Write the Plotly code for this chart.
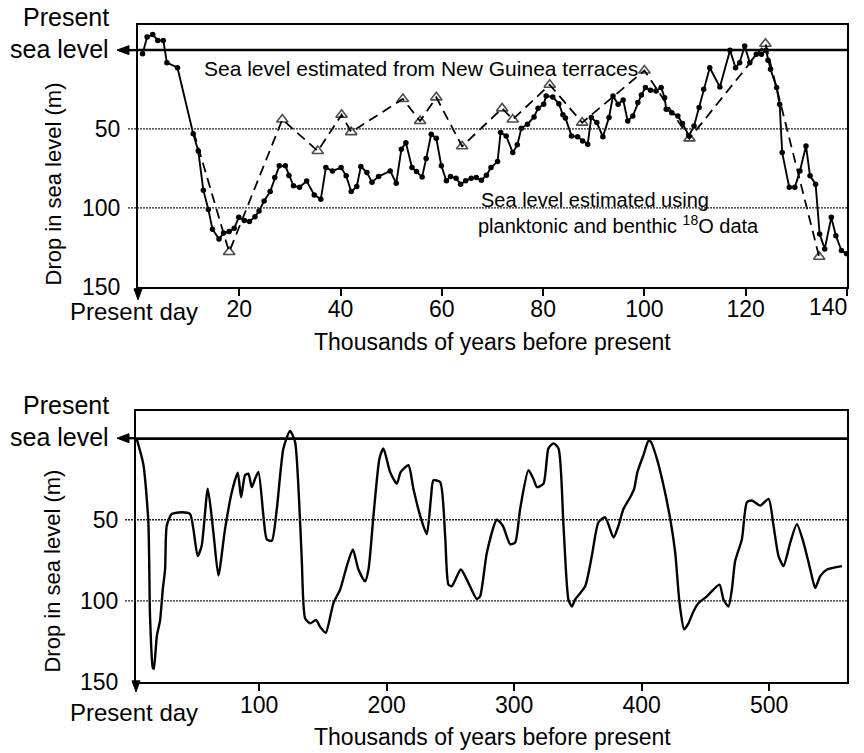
import plotly.graph_objects as go

W, H = 864, 753
YK = 753 / 738  # vertical layout factor used when placing by pixel row
FONT = "Liberation Sans, Arial, Helvetica, sans-serif"

# ---- Last 140 kyr: sea level from planktonic/benthic 18O (solid, dots) ----
o18_age = [0.9, 1.8, 2.9, 3.9, 5.0, 5.7, 7.8, 10.9, 11.9, 12.9, 13.9, 14.7, 16.0,
           16.9, 18.0, 19.0, 19.9, 21.0, 22.0, 23.1, 23.9, 24.9, 26.1, 27.0, 27.9,
           29.1, 29.8, 30.7, 31.9, 33.3, 34.8, 36.1, 37.1, 38.4, 40.1, 41.1, 42.1,
           43.2, 44.0, 45.2, 46.2, 47.5, 49.8, 51.0, 52.0, 52.9, 54.1, 55.0, 56.1,
           56.9, 57.9, 58.9, 59.9, 60.9, 61.7, 62.8, 63.7, 64.7, 65.8, 66.8, 67.8,
           68.8, 69.7, 71.0, 71.6, 72.7, 74.0, 74.9, 75.7, 76.9, 78.2, 79.0, 80.1,
           80.6, 81.9, 83.1, 83.9, 84.4, 85.6, 86.8, 87.8, 88.8, 89.5, 90.6, 91.8,
           93.0, 93.8, 94.8, 95.8, 96.7, 97.7, 98.7, 99.4, 100.2, 101.2, 102.3,
           103.3, 104.0, 104.3, 105.4, 106.6, 107.5, 108.8, 109.8, 110.8, 111.7,
           112.9, 114.9, 116.9, 118.0, 118.8, 119.8, 120.8, 122.1, 123.1, 124.0,
           124.4, 124.9, 126.1, 126.7, 127.2, 128.6, 129.7, 130.7, 131.9, 132.7,
           133.8, 134.6, 135.6, 136.9, 137.8, 138.9, 139.9]
o18_drop = [2.3, -8.2, -9.9, -6.1, -6.1, 8.0, 11.2, 53, 64, 88.8, 101, 113.5, 119.8,
            116, 115, 113, 106, 108, 108.6, 105.7, 102, 95.6, 89.7, 80.8, 73.4,
            73.4, 79.5, 86, 87, 83, 91.8, 94.5, 74.5, 76.6, 74.5, 79.7, 89.7,
            86.5, 73.8, 77.6, 83.7, 80.2, 76.6, 84.4, 62.9, 58.7, 74.5, 77, 80.4,
            68.8, 53.4, 55.9, 73.4, 82.9, 80.2, 81.2, 85, 82.9, 81.2, 80.8, 82.5,
            79.3, 74.5, 70.7, 52.3, 54.4, 65, 60.1, 49.6, 47, 42.4, 36.9, 34.4,
            29.1, 29.7, 34, 41, 43, 54.4, 55, 57.6, 59.7, 42.8, 46, 55,
            42.8, 29.1, 34.4, 31.6, 45, 41.8, 33.3, 28.5, 23.8, 25.5, 26,
            23.8, 30.2, 37.5, 39.7, 41.8, 46.6, 54.4, 48.1, 36.5, 24.9,
            11.2, 23.4, 0.2, 11.2, 8.0, -2.5, 8, 2.7, 2.7, 0.2,
            6.5, 12.2, 23.8, 34.4, 65, 87, 87, 76.6, 60.8, 79.7,
            85, 116.6, 126, 106, 117.6, 127, 129]

# ---- Last 140 kyr: sea level from New Guinea terraces (dashed, triangles) ----
ng_age = [11.0, 18.0, 28.5, 35.5, 40.2, 42.1, 52.3, 55.7, 58.9, 64.0, 71.9, 74.0,
          81.3, 87.7, 100.0, 108.9, 123.9, 134.5]
ng_drop = [52, 128, 44, 64, 41, 52, 31, 45, 30, 61, 37, 44,
           22, 46, 13, 56, -4, 131]

# ---- Last ~560 kyr: long sea level record ----
long_age = [4, 9.3, 13.2, 14.5, 16.6, 17.5, 19.8, 22.4, 24.5, 26.3, 27.6, 31.5,
            39.4, 45.9, 48.5, 51.9, 55, 59.8, 64.2, 68.1, 73.3, 78.6, 83.3, 85.9,
            89, 91.6, 94.3, 96.9, 99.5, 103.4, 106, 110, 113.9, 119.1, 124.3,
            128.2, 131.5, 133.5, 136.1, 140, 144.7, 147.8, 152.3, 158.3, 163.5,
            168.8, 173.5, 177.9, 183.1, 185.8, 189.7, 194.4, 197.5, 202.7, 208,
            211.1, 217.1, 221, 226.3, 231.5, 234.7, 236.7, 242, 245.9, 248.5,
            251.1, 258.2, 262.9, 270.7, 273.3, 278.6, 286.4, 291.1, 296.9, 300.8,
            304.7, 311.2, 315.1, 317.8, 323, 326.9, 330.8, 334.8, 338.7, 342.6,
            345.3, 348, 355.7, 360.9, 366.1, 371.4, 377.9, 381.8, 385.7, 391,
            394.1, 396.7, 401.4, 405.3, 407.2, 411.9, 417.1, 422.4, 426.3, 429.7,
            433.3, 436.7, 440.6, 444.6, 451.1, 461, 464.2, 468.1, 470.7, 473.3,
            478.6, 482.5, 486.4, 492.9, 499.5, 503.4, 507.3, 511.2, 516.5, 521.7,
            526.9, 532.2, 536.1, 540, 545.3, 557]
long_drop = [0, 16, 51.6, 109.5, 141, 142, 122, 112, 93, 80.7, 53.7, 46.5,
             45.4, 46.5, 55.8, 72.4, 66, 30.9, 57.9, 84.4, 55.8, 33, 21, 36.1,
             22.6, 21.6, 29.9, 24.7, 20.5, 47.5, 62, 63, 43.4, 6, -4.8,
             1.9, 40, 75, 110.8, 113.9, 111.8, 116, 119.7, 101.4, 93.2,
             78.6, 68.3, 80.7, 88, 80.7, 47.5, 12.3, 6, 20.5, 27.8,
             20.5, 16.4, 30.9, 47.5, 58.9, 37.1, 25.7, 26.8, 60, 90,
             91, 80.7, 86.9, 98.9, 97.3, 70.3, 50, 53.7, 65.1, 64.1,
             43.4, 19.5, 24.7, 29.9, 27.8, 6, 2.9, 6, 53.7, 99.4,
             103.5, 99, 91, 72.4, 51.6, 48.5, 61, 53.7, 43.4, 36.1,
             30.9, 20.5, 10.1, 1.4, 1.9, 12.3, 28.8, 49.6, 70.3, 101.4,
             117.6, 113.9, 106.6, 101.4, 97.3, 90, 99.4, 103.5, 93.2, 75.5,
             62, 39.2, 38.1, 41.3, 37.1, 53.7, 72.4, 78.6, 64.1, 52.7,
             64.1, 80.7, 92.1, 84.8, 80.7, 78.6]

top_xticks = [20, 40, 60, 80, 100, 120, 140]
bottom_xticks = [100, 200, 300, 400, 500]
depth_ticks = [50, 100, 150]
grid_levels = [50, 100]


def fx(px):
    return px / W


def fy(py):
    return 1 - py * YK / H


fig = go.Figure()

fig.add_trace(go.Scatter(
    x=o18_age, y=o18_drop, mode="lines+markers", xaxis="x", yaxis="y",
    line=dict(color="black", width=1.9),
    marker=dict(size=5.5, color="black"), hoverinfo="skip"))

fig.add_trace(go.Scatter(
    x=ng_age, y=ng_drop, mode="lines+markers", xaxis="x", yaxis="y",
    line=dict(color="black", width=1.8, dash="10px,6px"),
    marker=dict(symbol="triangle-up-open", size=[0] + [10] * (len(ng_age) - 1),
                color="black", line=dict(width=1.6, color="black")),
    hoverinfo="skip"))

fig.add_trace(go.Scatter(
    x=long_age, y=long_drop, mode="lines", xaxis="x2", yaxis="y2",
    line=dict(color="black", width=2.4, shape="spline", smoothing=0.6),
    hoverinfo="skip"))

tickfont = dict(family=FONT, size=23, color="black")
frame = dict(showline=True, linecolor="black", linewidth=2.2, mirror=True,
             showgrid=False, zeroline=False)
xticks = dict(ticks="outside", ticklen=7, tickwidth=2, tickcolor="black",
              tickfont=tickfont, ticklabelstandoff=-6)

fig.update_layout(
    width=W, height=H,
    margin=dict(l=0, r=0, t=0, b=0),
    paper_bgcolor="white", plot_bgcolor="white",
    showlegend=False,
    font=dict(family=FONT, color="black"),
    # the last top tick is labelled separately, inside the right edge
    xaxis=dict(domain=[fx(138), fx(847)], range=[0, 140], anchor="y",
               tickvals=top_xticks[:-1],
               minor=dict(tickvals=top_xticks[-1:], ticks="outside", ticklen=7,
                          tickwidth=2, tickcolor="black"),
               **xticks, **frame),
    yaxis=dict(domain=[fy(286), fy(25)], range=[150, -15.8], anchor="x",
               tickvals=depth_ticks, ticks="", ticklabelstandoff=11,
               tickfont=tickfont, **frame),
    xaxis2=dict(domain=[fx(136), fx(847)], range=[3.5, 561], anchor="y2",
                tickvals=bottom_xticks, **xticks, **frame),
    yaxis2=dict(domain=[fy(680), fy(410)], range=[150, -17], anchor="x2",
                tickvals=depth_ticks, ticks="", ticklabelstandoff=11,
                tickfont=tickfont, **frame),
)

shapes = []


def left_arrow(tip_x, y, tail_x):
    # horizontal shaft plus a filled head pointing left
    shapes.append(dict(type="line", xref="paper", yref="paper",
                       x0=fx(tip_x + 8), x1=fx(tail_x), y0=fy(y), y1=fy(y),
                       line=dict(color="black", width=2.4)))
    shapes.append(dict(type="path", xref="paper", yref="paper",
                       path=f"M {fx(tip_x)} {fy(y)} L {fx(tip_x + 12)} {fy(y - 4.5)} "
                            f"L {fx(tip_x + 12)} {fy(y + 4.5)} Z",
                       fillcolor="black", line=dict(color="black", width=1)))


def down_arrow(x, tail_y, tip_y):
    shapes.append(dict(type="line", xref="paper", yref="paper",
                       x0=fx(x), x1=fx(x), y0=fy(tail_y), y1=fy(tip_y - 6),
                       line=dict(color="black", width=2)))
    shapes.append(dict(type="path", xref="paper", yref="paper",
                       path=f"M {fx(x)} {fy(tip_y)} L {fx(x - 4)} {fy(tip_y - 11)} "
                            f"L {fx(x + 4)} {fy(tip_y - 11)} Z",
                       fillcolor="black", line=dict(color="black", width=1)))


for yref, xref, grid_left, x_lo, x_hi, sea_y, box_left, box_bottom, tip_y in (
        ("y", "x", 128, 0, 140, 50, 138, 286, 299),
        ("y2", "x2", 125, 3.5, 561, 437, 136, 680, 690)):
    # dotted reference levels, running a little past the left frame
    for lvl in grid_levels:
        shapes.append(dict(type="line", xref="paper", yref=yref,
                           x0=fx(grid_left), x1=fx(847), y0=lvl, y1=lvl,
                           line=dict(color="#222", width=1.3, dash="2px,1px")))
    # present sea level
    shapes.append(dict(type="line", xref=xref, yref=yref,
                       x0=x_lo, x1=x_hi, y0=0, y1=0,
                       line=dict(color="black", width=2.6)))
    left_arrow(117, sea_y, box_left)
    down_arrow(box_left, box_bottom, tip_y)

fig.update_layout(shapes=shapes)

label = dict(family=FONT, size=23, color="black")
big = dict(family=FONT, size=25, color="black")
mid = dict(family=FONT, size=24, color="black")
ytitle = dict(family=FONT, size=22, color="black")
ann = []


def text(s, x, y, xanchor="center", font=label, angle=0):
    ann.append(dict(text=s, x=fx(x), y=fy(y), xref="paper", yref="paper",
                    xanchor=xanchor, yanchor="middle", showarrow=False,
                    font=font, textangle=angle))


for top, sea_y, xlab_y, pd_y, ytitle_y in ((17, 49, 341, 311, 184),
                                           (404, 436, 735, 711, 570)):
    text("Present", 111, top, xanchor="right", font=big)
    text("sea level", 111, sea_y, xanchor="right", font=big)
    text("Present day", 134, pd_y, font=mid)
    text("Thousands of years before present", 492, xlab_y)
    text("Drop in sea level (m)", 53, ytitle_y, font=ytitle, angle=-90)

text(str(top_xticks[-1]), 849, 306, xanchor="right", font=label)
text("Sea level estimated from New Guinea terraces", 421, 68,
     font=dict(family=FONT, size=21, color="black"))
text("Sea level estimated using", 479, 199, xanchor="left",
     font=dict(family=FONT, size=20, color="black"))
text("planktonic and benthic <sup>18</sup>O data", 476, 224, xanchor="left",
     font=dict(family=FONT, size=20, color="black"))

fig.update_layout(annotations=ann)

fig.write_html("out.html", config={"displayModeBar": False})
